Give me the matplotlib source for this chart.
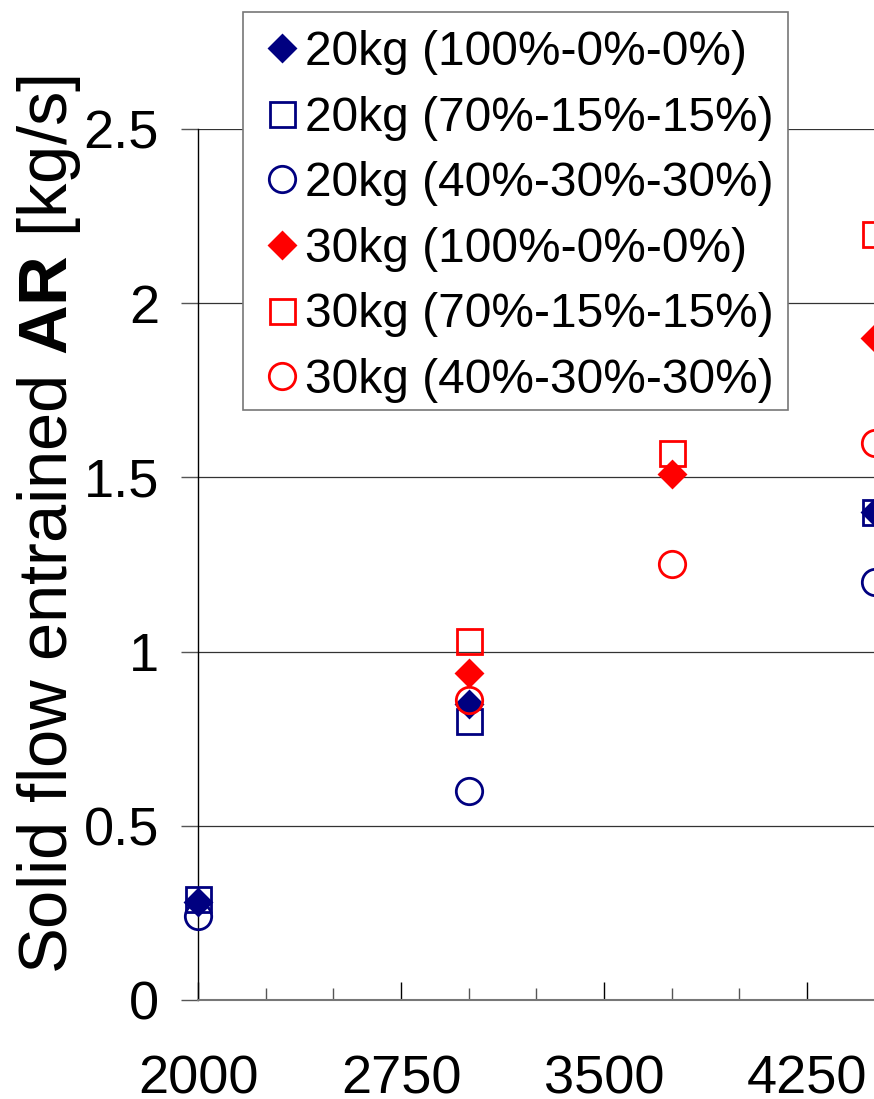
import matplotlib
matplotlib.use("Agg")
import matplotlib.pyplot as plt
from matplotlib.patches import Rectangle
from matplotlib.ticker import MultipleLocator

plt.rcParams["font.family"] = ["Liberation Sans", "DejaVu Sans"]
plt.rcParams["mathtext.fontset"] = "custom"
plt.rcParams["mathtext.rm"] = "Liberation Sans"
plt.rcParams["mathtext.bf"] = "Liberation Sans:bold"

# Air velocity and entrained solid flow for each run
x_20_100 = [2000, 3000, 4500]
y_20_100 = [0.28, 0.85, 1.40]
x_20_70 = [2000, 3000, 4500]
y_20_70 = [0.29, 0.80, 1.40]
x_20_40 = [2000, 3000, 4500]
y_20_40 = [0.24, 0.60, 1.20]
x_30_100 = [3000, 3750, 4500]
y_30_100 = [0.94, 1.51, 1.90]
x_30_70 = [3000, 3750, 4500]
y_30_70 = [1.03, 1.57, 2.20]
x_30_40 = [3000, 3750, 4500]
y_30_40 = [0.86, 1.25, 1.60]

labels = [
    "20kg (100%-0%-0%)",
    "20kg (70%-15%-15%)",
    "20kg (40%-30%-30%)",
    "30kg (100%-0%-0%)",
    "30kg (70%-15%-15%)",
    "30kg (40%-30%-30%)",
]
x_ticks = [2000, 2750, 3500, 4250]
y_ticks = [0, 0.5, 1, 1.5, 2, 2.5]
y_tick_labels = ["0", "0.5", "1", "1.5", "2", "2.5"]

NAVY = "#000080"
RED = "#ff0000"

fig = plt.figure(figsize=(8.74, 10.99), dpi=100)
W, H = 874, 1099
left_px, bottom_px, top_px = 198, 1000, 129
px_per_unit = 203 / 750.0
xmin, xmax = 2000, 4750
ax = fig.add_axes([left_px / W, (H - bottom_px) / H,
                   (xmax - xmin) * px_per_unit / W, (bottom_px - top_px) / H])

series = [
    (x_20_100, y_20_100, "D", NAVY, True, 13.5),
    (x_20_70, y_20_70, "s", NAVY, False, 18),
    (x_20_40, y_20_40, "o", NAVY, False, 19),
    (x_30_100, y_30_100, "D", RED, True, 13.5),
    (x_30_70, y_30_70, "s", RED, False, 18),
    (x_30_40, y_30_40, "o", RED, False, 19),
]
for (xs, ys, m, c, filled, ms), lab in zip(series, labels):
    ax.plot(xs, ys, linestyle="none", marker=m, markersize=ms,
            markerfacecolor=c if filled else "none", markeredgecolor=c,
            markeredgewidth=2.0, label=lab, clip_on=False, zorder=3)

ax.set_xlim(xmin, xmax)
ax.set_ylim(0, 2.5)
ax.set_xticks(x_ticks)
ax.set_xticklabels([str(v) for v in x_ticks])
ax.xaxis.set_minor_locator(MultipleLocator(250))
ax.set_yticks(y_ticks)
ax.set_yticklabels(y_tick_labels)

ax.tick_params(axis="x", which="major", direction="in", length=13, width=1.0,
               color="black", labelsize=39, pad=39)
ax.tick_params(axis="x", which="minor", direction="in", length=9, width=1.0,
               color="#555555")
ax.tick_params(axis="y", which="major", direction="out", length=12, width=1.0,
               color="#555555", labelsize=39, pad=16)

ax.grid(axis="y", color="#333333", linewidth=0.9)
ax.set_axisbelow(True)
for s in ("top", "right"):
    ax.spines[s].set_visible(False)
ax.spines["left"].set_color("black")
ax.spines["left"].set_linewidth(1.0)
ax.spines["bottom"].set_color("#777777")
ax.spines["bottom"].set_linewidth(1.5)

fig.text(49 / W, 1 - 525 / H, r"Solid flow entrained $\mathbf{AR}$ [kg/s]",
         rotation=90, ha="center", va="center", fontsize=49.5)

# Legend box drawn as a plain rectangle, entries placed inside it
box = Rectangle((243 / W, 1 - 410 / H), (788 - 243) / W, (410 - 12) / H,
                transform=fig.transFigure, facecolor="white",
                edgecolor="#777777", linewidth=1.2, zorder=4)
fig.patches.append(box)

leg = fig.legend(loc="upper left", bbox_to_anchor=(259 / W, 1 - 30 / H),
                 bbox_transform=fig.transFigure, fontsize=34.5, frameon=False,
                 handlelength=0.95, handletextpad=0.0, labelspacing=0.43,
                 borderpad=0, borderaxespad=0, numpoints=1)
leg.set_zorder(5)

fig.savefig("out.png", dpi=100)
